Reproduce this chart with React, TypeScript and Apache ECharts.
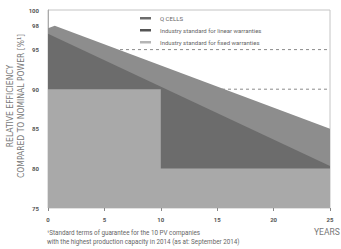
import React, { useEffect, useRef } from "react";
import * as echarts from "echarts";

const qcellsData: [number, number][] = [[0, 97.7], [0.6, 98], [25, 85]];
const linearData: [number, number][] = [[0, 97], [25, 80.3]];
const fixedData: [number, number][] = [[0, 90], [10, 90], [10, 80], [25, 80]];
const dashedLevels = [95, 90];
const xRange = [0, 25];
const yTickLabels = [100, 98, 95, 90, 85, 80, 75];
const legendNames = ["Q CELLS", "Industry standard for linear warranties", "Industry standard for fixed warranties"];
const footnote = ["¹Standard terms of guarantee for the 10 PV companies", "with the highest production capacity in 2014 (as at: September 2014)"];

const colQ = "#8d8d8d";
const colL = "#6c6c6c";
const colF = "#a9a9a9";

export default function App() {
  const ref = useRef<HTMLDivElement>(null);
  useEffect(() => {
    const chart = echarts.init(ref.current!, null, { renderer: "svg" });
    const font = "Roboto";
    chart.setOption({
      animation: false,
      backgroundColor: "#fff",
      grid: { left: 48, right: 11, top: 10, bottom: 41, show: true, borderColor: "#c4c4c4", borderWidth: 1 },
      xAxis: {
        type: "value", min: 0, max: 25, interval: 5,
        axisLine: { show: false },
        axisTick: { show: true, length: 3, lineStyle: { color: "#888" } },
        splitLine: { show: false },
        axisLabel: { fontSize: 6, color: "#555", fontFamily: font, fontWeight: "bold", margin: 8 },
      },
      yAxis: {
        type: "value", min: 75, max: 100, interval: 1,
        axisLine: { show: true, lineStyle: { color: "#aaa" } },
        axisTick: { show: false },
        splitLine: { show: false },
        axisLabel: {
          fontSize: 6, color: "#555", fontFamily: font, fontWeight: "bold", margin: 9,
          formatter: (v: number) => (yTickLabels.includes(v) ? String(v) : ""),
        },
      },
      series: [
        ...dashedLevels.map((v) => ({
          type: "line", z: 1, silent: true, symbol: "none",
          data: xRange.map((x) => [x, v]),
          lineStyle: { color: "#8a8a8a", type: [3, 3], width: 1 },
        })),
        { name: legendNames[0], type: "line", z: 2, data: qcellsData, symbol: "none", lineStyle: { width: 0 }, areaStyle: { color: colQ, opacity: 1, origin: "start" } },
        { name: legendNames[1], type: "line", z: 3, data: linearData, symbol: "none", lineStyle: { width: 0 }, areaStyle: { color: colL, opacity: 1, origin: "start" } },
        { name: legendNames[2], type: "line", z: 4, data: fixedData, symbol: "none", lineStyle: { width: 0 }, areaStyle: { color: colF, opacity: 1, origin: "start" } },
      ],
      graphic: [
        ...legendNames.map((n, i) => ({ type: "group", children: [
          { type: "rect", shape: { x: 140, y: 17 + i * 12, width: 11, height: 2.5 }, style: { fill: [colL, "#555", "#b5b5b5"][i] } },
          { type: "text", x: 160, y: 18.5 + i * 12, style: { text: n, fontSize: 6, fill: "#666", fontFamily: font, verticalAlign: "middle" } },
        ] })),
        {
          type: "text", x: 15, y: 106, rotation: Math.PI / 2,
          style: { text: "RELATIVE EFFICIENCY\nCOMPARED TO NOMINAL POWER [%¹]", fontSize: 8.5, lineHeight: 11, fill: "#777", fontFamily: "DejaVu Sans Condensed", align: "center", verticalAlign: "middle" },
        },
        { type: "text", x: 314, y: 232, style: { text: "YEARS", fontSize: 8.5, fill: "#777", fontFamily: font, verticalAlign: "middle" } },
        ...footnote.map((t, i) => ({ type: "text", x: 47, y: 233 + i * 9, style: { text: t, fontSize: 6.3, fill: "#666", fontFamily: font, verticalAlign: "middle" } })),
      ],
    });
    return () => chart.dispose();
  }, []);
  return <div ref={ref} style={{ width: 341, height: 249, position: "absolute", left: 0, top: 0 }} />;
}
